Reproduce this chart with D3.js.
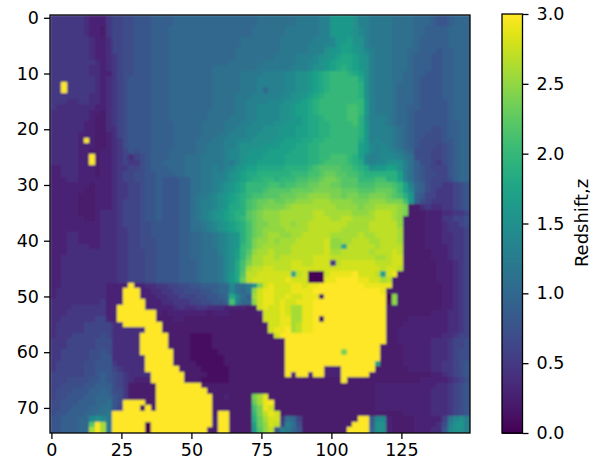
<!DOCTYPE html>
<html>
<head>
<meta charset="utf-8">
<script src="https://cdn.jsdelivr.net/npm/d3@7/dist/d3.min.js"></script>
<style>
  html, body { margin: 0; padding: 0; background: #fff; }
  text { font-family: "DejaVu Sans", sans-serif; fill: #000; }
</style>
</head>
<body>
<div id="graph"></div>
<script>
const width = 604;
const height = 465;
const margin = { top: 15, bottom: 32, left: 50, right: 134 };
const nCols = 150;
const nRows = 75;
const xTicks = [0, 25, 50, 75, 100, 125];
const yTicks = [0, 10, 20, 30, 40, 50, 60, 70];
const colorTicks = [0, 0.5, 1, 1.5, 2, 2.5, 3];
const colorLabel = "Redshift,z";
// one char = two data columns, value = index in levels * 0.1
const levels = "0123456789abcdefghijklmnopqrstu";
const redshiftRows = [
  "55555 54333 56677 88899 99aaa aaaaa aaaaa aabbb bbbbc cccdd ggggf ddccc cbbbb aaa98 89aaa",
  "55555 54333 56677 88899 99aaa aaaaa aaaaa aabbb bbbbc cccdd ggggf ddccc cbbbb aaa98 89aaa",
  "55555 54332 56677 88899 9aaaa aaaaa aaaaa abbbb bbccc cccdd ggggf edccc cbbbb aa999 9aaaa",
  "55555 54332 56677 88899 9aaaa aaaaa aaaaa abbbb bbccc cccdd ggggf edccc cbbbb aa999 9aaaa",
  "55555 55433 46677 88899 9aaaa aaaaa aaaab bbbbb bcccc ccddd egghf fdccc cbbbb a9999 9aaaa",
  "55555 55433 46677 88899 9aaaa aaaaa aaaab bbbbb bcccc cddde eghhg fdccc cbbbb a9999 9aaaa",
  "55555 55433 46677 88899 9aaaa aaaaa aaabb bbbbb bcccc cdddf gghhg fedcc cbbba a9998 99aaa",
  "55555 55433 45677 88899 9aaaa aaaaa aaabb bbbbb ccccd ddeff ghiih gfdcc cbbba 99988 99aaa",
  "55555 55543 45677 88899 9aaaa aaaaa aabbb bbbcc ccccd deefg hiiih gfdcc cbbba 99988 99aaa",
  "55555 55443 45677 88899 9aaaa aaaab bbbbb bbccc cccdd deffg hijih gfdcc cbbba 99988 99aaa",
  "55555 55443 35677 88899 9aaaa aaaab bbbbc cccdd ddeef fghij kkkji hfdcc cbbaa 99888 99aaa",
  "55555 55543 45678 88899 9aaaa aaaab bbbbc ccddd ddeef fghij kkkkk ifdcc cbbaa 98888 99aaa",
  "55u55 55543 45678 88899 9aaaa aaaab bbbbc ccddd ddeef fghij kkkkk jfdcc cbaaa 98888 99aaa",
  "55u55 55543 45678 88899 9aaaa aaaab bbbbc ccdad ddeef fghij kkkkk jfdcc cbaaa 98888 99aaa",
  "55555 55443 45678 88899 9aaaa aaaab bbbcc cdddd deeff ghijk kkkkk jfdcc cbaaa 98888 99aaa",
  "55544 55443 45678 88899 9aaaa aaaab bbbcc dddde eeffg hijkk kkkkk kgdcc cbaaa 98888 89aaa",
  "54444 44433 45678 88899 9aaaa aaaab bbbcc ddeee effgh hijkk kkkll kgdcc cbaa9 98888 89aaa",
  "44444 44332 45678 88899 9aaaa aaabb bbbcc ddeee effgh hijkk kkkll kgdcc cbaa9 88888 89aaa",
  "44444 44322 45678 88899 9aaaa aaabb bbccc ddeee effgg hiijk kkkll jfddd cbaa9 88888 89aaa",
  "44444 43322 45678 88899 99aaa aabbb bcccd deeee ffggg hiijj kkkkl jgddd cbaa9 88888 899aa",
  "44444 43322 44678 88899 99aaa aabbb bccdd eeeff fgggh hiijj kkkkk jgddd dcba9 88877 899aa",
  "44444 33322 34678 88899 99aaa aabbb ccddd eefff fgggh hiijj kkkkk jgddd dcba9 88777 899aa",
  "44444 3u322 34578 88899 99aaa abbbc cddee effff gghhh iijjk kkkkk igded dcba9 87777 889aa",
  "44444 33322 34578 88899 99aaa abbcc cddef fffgg ghhhi ijjkk kkkkk hgede dcba9 87776 789aa",
  "44444 33223 34568 78899 9aaaa abbcc cdeef fgggh hhhii ijjkk kkkkk hgede edcba 77766 789aa",
  "44444 33u23 34564 67899 9aaab bbccc cdeef ggghh hhiii ijjkk lllkj hedde eedcb 77766 789aa",
  "44444 33u23 34565 57899 aaaab bbccc cdcef gghhh hhiii ijjkl lllkj iedee fffdb 97765 789aa",
  "33444 33323 34556 67899 9aaab bbccd cdefg hhiii iijjj jklmm mmllk jifgg hhfdb 98766 689aa",
  "33444 33323 34566 77889 99aab bbccd defgh iijjj jjjkk kllmn nmmll kjjjj jjhdb 98776 689aa",
  "33344 33333 34566 77889 88899 bbccd defgh ijjkk jkkkl lmmno onmmm kkkll jjhdb 98766 679aa",
  "33333 33233 34556 67889 88899 bbccd efghi kkkkl lkllm mnnoo nnmmm lllmm mlkhd a9766 55678",
  "33333 32233 34556 67889 88899 bbccd efghi kkklm mmmnn nnooo oonnn mmmnn nmkhe a9765 55678",
  "33333 22233 34556 67889 88899 bccde fghij kllmm mnnno opppp oonoo nnooo nmljg 98665 55678",
  "33333 22233 34566 67889 88899 bcdde fghij lmnno nnoop ppqqq ppppo ooppp ooolg 97655 55678",
  "33333 22233 34566 67889 88899 bcdde fgiij lmnoo oopqq qqqqq qpppp oppqq qqpo2 24544 55678",
  "33333 22234 44566 67889 88899 bcdef ghijj mnopp pqqqq qqrrq qqqqp ppqrr rqpo2 22333 44556",
  "33333 32234 44566 67889 88899 bcdef ghijk mnopp pqqqq qqrrr qqrrq qqqrr rqp22 22333 55667",
  "33333 33334 44566 67788 88899 bbcde fghij lnoop pqqpq qrrrr rrrqq qqrrr rrp22 22333 45567",
  "33333 33334 44556 67788 88899 bbcde fghij lnopp ppqqq qrrrr rrqqq qqrrr rrq22 22333 45556",
  "33344 33334 44556 67788 88899 aabbc defgj lnopq qppqq rrrrr qqqqq rqqrr rrq22 22333 44556",
  "33344 33334 44556 67778 88899 aabbc defgj loppq pqqqr rrrrs ppqqr rrqqr rrq22 22333 44556",
  "33344 44334 44556 67778 88899 aabbc defgk lopqq qqqrr rrrrs ppirr rrrqr rrr22 22333 34556",
  "33344 44444 44556 66778 88899 aabbb defhk mpqqr qqqrr rrrrs qqrrr rrqrr rsr22 22233 34556",
  "33444 44444 44556 66778 88899 aabbb cefhk nqqrr qrrrr rrsss rrrrr rrrqq rss22 22233 34556",
  "33444 44444 44556 66778 88899 9abbb cefil oqqrr rrrss rrsss 5rsss sssrr rss22 22223 33456",
  "33444 44444 44556 66778 88899 9abbb cefil qrrss rrrss sssss sssss ssssr ssr22 22223 33456",
  "33444 44444 44556 66778 88899 9abbb cegim rrsss sssir s000s ttttu sssrh st222 22223 33456",
  "33444 44444 44556 66778 88899 9abbb cegin rssss sstss s000t tuuuu ttssq r2222 22223 33456",
  "33444 44444 3333u 33445 56677 88999 aaebb cfost ssstt sttuu uuuuu utttt t2222 22222 33456",
  "34444 44444 333uu u3344 55667 77889 aaeba cpstt ssstt ttuuu uuuuu uuuut 22222 22222 33456",
  "34444 44444 333uu u3334 45566 67788 9aieb 9qstt sstss ttt1u uuuuu uuuuu 0p222 22222 33456",
  "44444 44445 333uu uu333 44555 66778 89lda apstt stsst ttuuu uuuuu uuuuu 1p222 22222 33456",
  "44445 55555 33uuu uu333 33454 45544 43333 22sts stsqq ttuuu uuuuu uuuuu 22222 22222 33456",
  "44455 55555 33uuu uuuu3 23333 33323 33222 223ss stsqq ttuuu uuuuu uuuuu 22222 22233 34456",
  "44555 55566 33uuu uuuu2 22332 22222 22222 222ss sttqq ttu1u uuuuu uuuuu 22223 33333 34456",
  "45555 56666 644uu uuuuu 22222 22222 22222 2222s sttqr ttuuu uuuuu uuuuu 22233 33333 34456",
  "45555 56666 64444 44uuu 22222 22222 22222 2222s ttuqr ttuuu uuuuu uuuuu 22333 33333 34456",
  "45556 66667 64444 4uuuu u2222 11112 22222 22222 suuuu uuuuu uuuuu uuuuu 22333 33333 44566",
  "55566 66677 74444 4uuuu u2222 11112 22222 22222 22uuu uuuuu uuuuu uuuuu 22333 33344 45667",
  "55566 66677 74444 4uuuu u2222 11112 22222 22222 22uuu uuuuu uuuuu uuuu2 22233 33344 45667",
  "55666 66778 74444 4uuuu uu222 11111 22222 22222 22uuu uuuuu uuouu uuuu2 22233 33344 45677",
  "55666 66778 84444 44uuu uu222 11111 12222 22222 22uuu uuuuu uuuuu uuuu2 22233 33344 45677",
  "56666 67788 85444 44uuu uu222 21111 12222 22222 22uuu uuuuu uuuuu uuuh2 22233 33344 55678",
  "56666 67788 86544 44uuu uuu22 22111 11222 22222 22uuu uuuu3 33uuu uuu22 22223 33344 55678",
  "66666 67789 87654 444uu uuuu2 22211 11222 22222 22u3u u3uu3 33uuu uu222 22222 22233 45678",
  "66677 77889 87654 333uu uuuu2 22111 11222 22222 22222 22222 22u22 22222 22222 23333 34567",
  "66777 78899 97652 2222u uuuuu uu222 22222 22222 22222 22222 22222 22233 33333 33334 45678",
  "67778 8899a 97752 2222u uuuuu uuu22 22222 22222 22222 22222 22222 22233 33333 33344 45678",
  "67788 899aa a8752 2222u uuuuu uuuu2 23222 2oqt2 22222 22222 22222 22233 33333 33344 45678",
  "77888 999aa b87uu uu22u uuuuu uuuu2 22222 2nqtu 22222 22222 22222 22233 33333 33344 45678",
  "77889 99aab b86uu u1u2u uuuuu uuuu2 22222 2lots 22222 22222 22222 22233 33333 33344 45678",
  "78899 9aabb cuuuu uuuuu uuuuu uuuu2 uu222 2kort s2222 22222 22222 22222 22233 33344 45678",
  "88999 aaefe cuuuu uuuuu uuuuu uuuu3 uu222 2jnqs s5ba6 22222 22222 uu9ee 32222 33333 6cefd",
  "88999 aamuq cuuuu uu0uu uuuuu uuuu3 uu222 2hnps r6db7 22222 2222u uu9ff 32222 33334 7dfgd",
  "88999 aaquq cuuuu uu0uu uuuuu uuu22 uu222 2gmpr 8dca8 22222 222uu uuaff 32222 33344 8effd",
];

const heatCells = [];
redshiftRows.forEach((row, r) => {
  row.replace(/ /g, "").split("").forEach((c, i) => {
    if (i * 2 < nCols) {
      heatCells.push({ col: i * 2, row: r, z: levels.indexOf(c) * 0.1 });
    }
  });
});

const svg = d3
  .select("#graph")
  .append("svg")
  .attr("width", width)
  .attr("height", height)
  .style("display", "block");

const plotRight = width - margin.right;
const plotBottom = height - margin.bottom;

// column/row edges, ticks sit on cell centres
const xScale = d3.scaleLinear().domain([-0.5, nCols - 0.5]).range([margin.left, plotRight]);
const yScale = d3.scaleLinear().domain([-0.5, nRows - 0.5]).range([margin.top, plotBottom]);
const colorScale = d3.scaleSequential(d3.interpolateViridis).domain([0, 3]);

// the reference looks resampled, so soften the cells a little
const defs = svg.append("defs");
defs
  .append("filter")
  .attr("id", "soften")
  .attr("x", "-2%")
  .attr("y", "-2%")
  .attr("width", "104%")
  .attr("height", "104%")
  .append("feGaussianBlur")
  .attr("stdDeviation", 0.9);
defs
  .append("clipPath")
  .attr("id", "plot-clip")
  .append("rect")
  .attr("x", margin.left)
  .attr("y", margin.top)
  .attr("width", plotRight - margin.left)
  .attr("height", plotBottom - margin.top);

svg
  .append("g")
  .attr("clip-path", "url(#plot-clip)")
  .append("g")
  .attr("filter", "url(#soften)")
  .attr("shape-rendering", "crispEdges")
  .selectAll("rect")
  .data(heatCells)
  .enter()
  .append("rect")
  .attr("x", (d) => xScale(d.col - 0.5))
  .attr("y", (d) => yScale(d.row - 0.5))
  .attr("width", xScale(2) - xScale(0) + 0.5)
  .attr("height", yScale(1) - yScale(0) + 0.5)
  .attr("fill", (d) => colorScale(d.z));

// frame
svg
  .append("rect")
  .attr("x", margin.left)
  .attr("y", margin.top)
  .attr("width", plotRight - margin.left)
  .attr("height", plotBottom - margin.top)
  .attr("fill", "none")
  .attr("stroke", "#000")
  .attr("stroke-width", 1.3);

function styleAxis(g) {
  g.select(".domain").remove();
  g.selectAll(".tick line").attr("stroke", "#000").attr("stroke-width", 1.3);
  g.selectAll(".tick text").style("font-size", "17.5px").attr("fill", "#000");
}

svg
  .append("g")
  .attr("transform", `translate(0, ${plotBottom})`)
  .call(d3.axisBottom(xScale).tickValues(xTicks).tickSize(6).tickPadding(5))
  .call(styleAxis);

svg
  .append("g")
  .attr("transform", `translate(${margin.left}, 0)`)
  .call(d3.axisLeft(yScale).tickValues(yTicks).tickSize(6).tickPadding(5))
  .call(styleAxis);

// colorbar
const barLeft = 502;
const barRight = 522.5;
const barScale = d3.scaleLinear().domain([0, 3]).range([433, 14]);
const barSteps = d3.range(0, 3, 3 / 256);

svg
  .append("g")
  .attr("shape-rendering", "crispEdges")
  .selectAll("rect")
  .data(barSteps)
  .enter()
  .append("rect")
  .attr("x", barLeft)
  .attr("y", (d) => barScale(d + 3 / 256))
  .attr("width", barRight - barLeft)
  .attr("height", barScale(0) - barScale(3 / 256) + 0.5)
  .attr("fill", (d) => colorScale(d));

svg
  .append("rect")
  .attr("x", barLeft)
  .attr("y", 14)
  .attr("width", barRight - barLeft)
  .attr("height", 419)
  .attr("fill", "none")
  .attr("stroke", "#000")
  .attr("stroke-width", 1.3);

svg
  .append("g")
  .attr("transform", `translate(${barRight}, 0)`)
  .call(
    d3
      .axisRight(barScale)
      .tickValues(colorTicks)
      .tickFormat(d3.format(".1f"))
      .tickSize(6)
      .tickPadding(8)
  )
  .call(styleAxis);

svg
  .append("text")
  .attr("transform", "translate(583, 223) rotate(-90)")
  .attr("text-anchor", "middle")
  .attr("dominant-baseline", "middle")
  .style("font-size", "18px")
  .text(colorLabel);
</script>
</body>
</html>
